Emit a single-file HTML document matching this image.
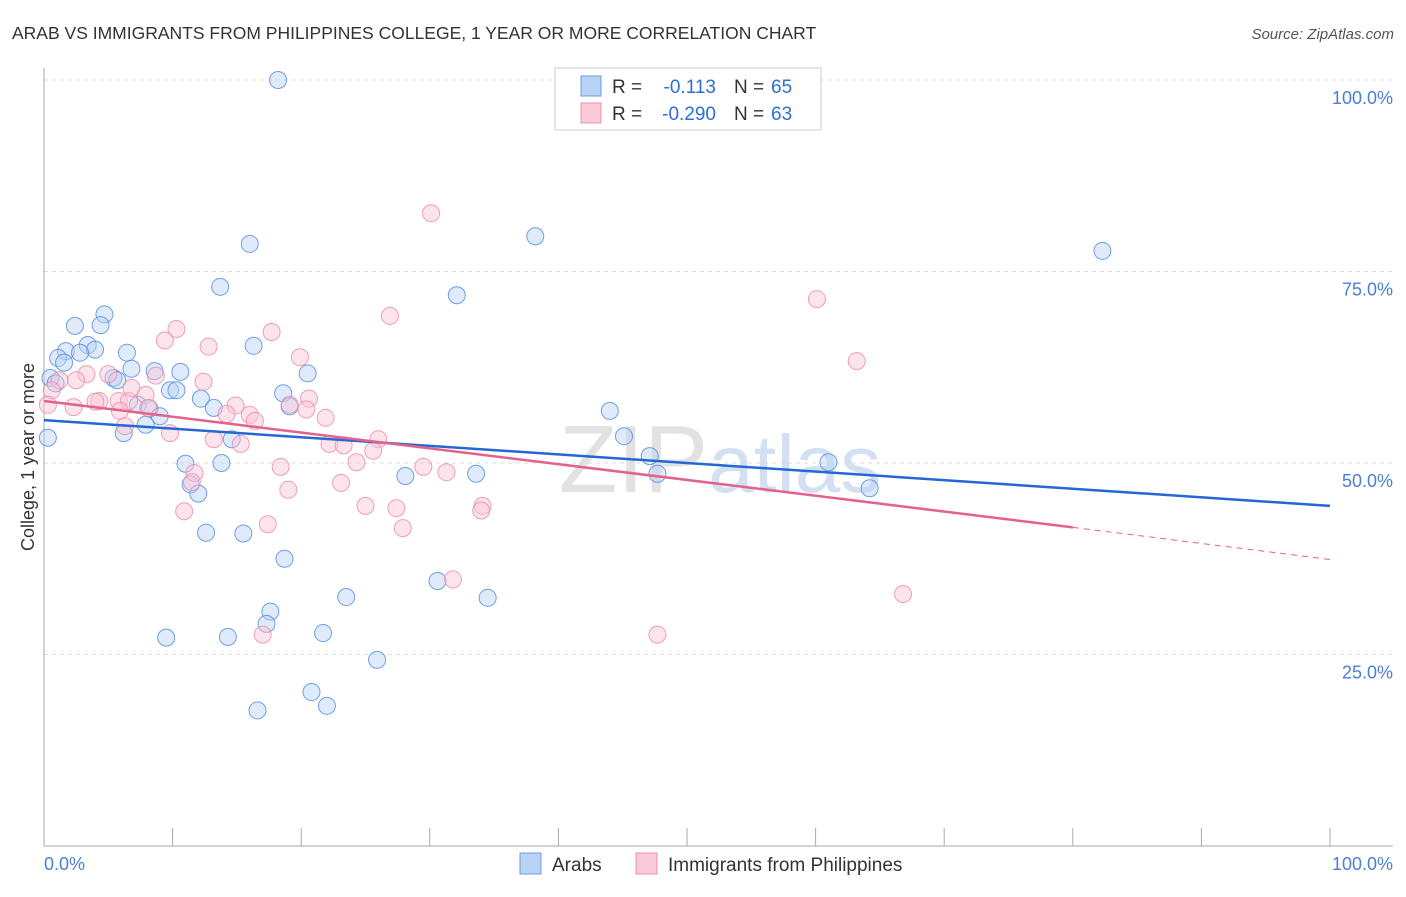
<!DOCTYPE html>
<html><head><meta charset="utf-8"><style>
body{margin:0;background:#fff;font-family:"Liberation Sans",sans-serif}
svg text{font-family:"Liberation Sans",sans-serif}
</style></head><body>
<svg id="c" width="1406" height="892" xmlns="http://www.w3.org/2000/svg">
<text x="12" y="39" font-size="17.5" fill="#333">ARAB VS IMMIGRANTS FROM PHILIPPINES COLLEGE, 1 YEAR OR MORE CORRELATION CHART</text>
<text x="1394" y="39" font-size="15" fill="#555" text-anchor="end" font-style="italic">Source: ZipAtlas.com</text>
<text x="720" y="492" font-size="96" fill="#e2e2e2" text-anchor="middle" font-family="Liberation Serif">ZIP<tspan fill="#d3e0f2" font-family="Liberation Sans" font-size="82">atlas</tspan></text>
<g id="grid"></g><g id="pts"></g><g id="lines"></g>
<text transform="translate(34,457) rotate(-90)" font-size="18" fill="#333" text-anchor="middle">College, 1 year or more</text>
<g>
<rect x="555" y="68" width="266" height="62" fill="#fff" stroke="#ccc"/>
<rect x="581" y="76" width="20" height="20" fill="#b8d3f5" stroke="#6b9be0"/>
<rect x="581" y="103" width="20" height="20" fill="#fbcad8" stroke="#ec8fab"/>
<text x="612" y="93" font-size="19" fill="#333">R =</text>
<text x="716" y="93" font-size="19" fill="#2c6fd6" text-anchor="end">-0.113</text>
<text x="734" y="93" font-size="19" fill="#333">N =</text>
<text x="771" y="93" font-size="19" fill="#2c6fd6">65</text>
<text x="612" y="120" font-size="19" fill="#333">R =</text>
<text x="716" y="120" font-size="19" fill="#2c6fd6" text-anchor="end">-0.290</text>
<text x="734" y="120" font-size="19" fill="#333">N =</text>
<text x="771" y="120" font-size="19" fill="#2c6fd6">63</text>
</g>
<g>
<rect x="520" y="853" width="21" height="21" fill="#b8d3f5" stroke="#6b9be0"/>
<text x="552" y="871" font-size="19" fill="#333">Arabs</text>
<rect x="636" y="853" width="21" height="21" fill="#fbcad8" stroke="#ec8fab"/>
<text x="668" y="871" font-size="19" fill="#333">Immigrants from Philippines</text>
</g>
</svg>
<script>
const yTicks=[25,50,75,100];
const yTickLabels=["25.0%","50.0%","75.0%","100.0%"];
const xTickLabels=["0.0%","100.0%"];
const arabsX=[18.2,16,38.2,82.3,13.7,32.1,4.7,2.4,4.4,16.3,3.4,3.97,1.7,2.8,1.1,1.56,6.45,6.8,5.4,5.7,8.6,10.6,9.8,10.3,20.5,18.6,12.2,13.2,19.1,7.3,8.2,9.0,7.9,6.2,14.6,44,45.1,47.1,47.7,61,64.2,11.0,13.8,28.1,33.6,11.4,12.0,12.6,15.5,18.7,30.6,23.5,34.5,17.6,17.3,9.5,14.3,21.7,25.9,20.8,22.0,16.6,0.3,0.5,0.9];
const arabsY=[100,78.6,79.6,77.7,73,71.9,69.4,67.9,68.0,65.3,65.4,64.8,64.6,64.4,63.7,63.1,64.4,62.3,61.1,60.8,62,61.9,59.5,59.5,61.7,59.1,58.4,57.2,57.4,57.6,57.1,56.1,55,53.9,53.1,56.8,53.5,50.9,48.6,50.1,46.7,49.9,50,48.3,48.6,47.2,46,40.9,40.8,37.5,34.6,32.5,32.4,30.6,29.0,27.2,27.3,27.8,24.3,20.1,18.3,17.7,53.3,61.1,60.4];
const philX=[30.1,60.1,26.9,63.2,10.3,9.4,12.8,17.7,19.9,1.2,0.6,0.3,3.3,2.5,5.0,4.3,5.8,6.6,4.0,2.3,6.8,7.9,8.7,12.4,14.9,20.6,19.1,14.2,16.0,16.4,20.4,5.9,8.1,6.3,9.8,13.2,15.3,21.9,22.2,23.3,26,25.6,24.3,18.4,29.5,31.3,11.7,11.5,19.0,23.1,25.0,27.4,27.9,34.1,34.0,10.9,17.4,31.8,17.0,47.7,66.8];
const philY=[82.6,71.4,69.2,63.3,67.5,66,65.2,67.1,63.8,60.8,59.5,57.6,61.6,60.8,61.6,58.1,58.1,58.1,58,57.3,59.8,58.9,61.4,60.6,57.5,58.4,57.6,56.4,56.3,55.5,57,56.8,57.2,54.8,53.9,53.1,52.5,55.9,52.5,52.3,53.1,51.6,50.1,49.5,49.5,48.8,48.7,47.5,46.5,47.4,44.4,44.1,41.5,44.4,43.8,43.7,42,34.8,27.6,27.6,32.9];
const blueTrend=[55.6,44.4];
const pinkTrend=[58.1,41.6,37.4];
const X=v=>44+v*12.86, Y=v=>846-v*7.66;
const NS="http://www.w3.org/2000/svg";
function mk(t,a,p){const e=document.createElementNS(NS,t);for(const k in a)e.setAttribute(k,a[k]);p.appendChild(e);return e;}
const g=document.getElementById('grid');
yTicks.forEach((t,i)=>{
 const l=mk('line',{x1:44,x2:1393,y1:Y(t),y2:Y(t),stroke:'#ddd','stroke-dasharray':'4,4'},g);
 
 
 const tx=mk('text',{x:1393,y:Y(t)+24,'font-size':18,fill:'#4a7fd4','text-anchor':'end'},g);tx.textContent=yTickLabels[i];
 
 
});
mk('line',{x1:44,x2:44,y1:68,y2:846,stroke:'#aaa'},g);
mk('line',{x1:44,x2:1393,y1:846,y2:846,stroke:'#aaa'},g);
for(let i=0;i<=10;i++){mk('line',{x1:X(i*10),x2:X(i*10),y1:828,y2:846,stroke:'#aaa'},g);}
[[0,'start'],[100,'end']].forEach((d,i)=>{const t=mk('text',{x:i?1393:44,y:870,'font-size':18,fill:'#4a7fd4','text-anchor':d[1]},g);t.textContent=xTickLabels[i];
 
 });
const p=document.getElementById('pts');
function dots(xs,ys,fill,stroke,name){xs.forEach((x,i)=>{const c=mk('circle',{cx:X(x),cy:Y(ys[i]),r:8.5,fill:fill,'fill-opacity':0.45,stroke:stroke,'stroke-opacity':0.8,'stroke-width':1},p);
 
 });}
dots(arabsX,arabsY,'#b8d3f5','#4f8ae0','arab-point');
dots(philX,philY,'#fbc4d4','#e889a6','philippines-point');
const L=document.getElementById('lines');
const b=mk('line',{x1:X(0),y1:Y(blueTrend[0]),x2:X(100),y2:Y(blueTrend[1]),stroke:'#2369d6','stroke-width':2.5},L);


const pk=mk('line',{x1:X(0),y1:Y(pinkTrend[0]),x2:X(80),y2:Y(pinkTrend[1]),stroke:'#e5608d','stroke-width':2.5},L);


const pd=mk('line',{x1:X(80),y1:Y(pinkTrend[1]),x2:X(100),y2:Y(pinkTrend[2]),stroke:'#e5608d','stroke-width':1,'stroke-dasharray':'6,5'},L);


</script>
</body></html>
